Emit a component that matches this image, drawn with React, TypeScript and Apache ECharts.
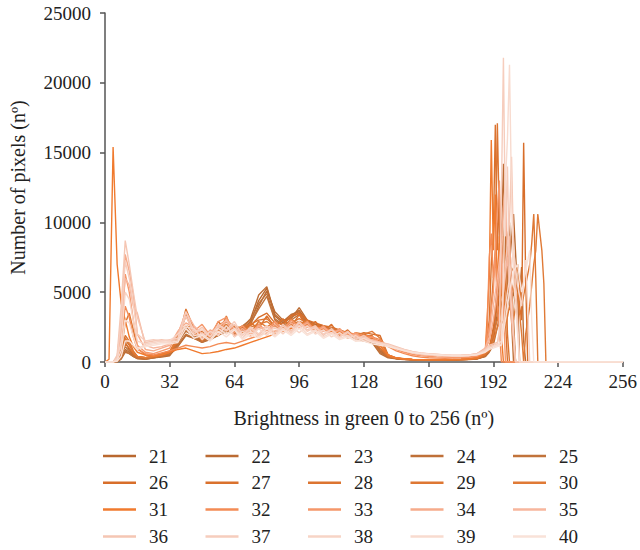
import React, { useEffect, useRef } from "react";
import * as echarts from "echarts";

const XM = [0, 2, 4, 6, 8, 10, 12, 14, 16, 20, 24, 28, 32, 36, 40, 44, 48, 52, 56, 60, 64, 68, 72, 76, 80, 84, 88, 92, 96, 100, 104, 108, 112, 116, 120, 124, 128, 132, 136, 140, 144, 148, 152, 156, 160, 164, 168, 172, 176, 180, 184, 188];

const NAMES = ["21", "22", "23", "24", "25", "26", "27", "28", "29", "30", "31", "32", "33", "34", "35", "36", "37", "38", "39", "40"];

const COLORS = [
  "#b9682f", "#bb6b33", "#bd6d35", "#bf7038", "#c1733b",
  "#d86e2a", "#da712d", "#dc7430", "#de7733", "#e07a36",
  "#f07a2e", "#f38b55", "#f5976a", "#f6ab8b", "#f7b69d",
  "#f5c6b3", "#f6cdbd", "#f7d4c6", "#f8dbcf", "#f9e2d8",
];

const M21 = [0,0,0,100,600,1400,900,500,300, 250,300,400,500, 1100,1900,1700,1500, 1700,2100,2300,2000, 2400,2900,4400,5300,3300, 2800,3300,3700,2900,2600, 2500,2400,2200,2100,1900,1700, 1500,700,350, 250,200,170,150,150,140,150,160,180,200,250,450];
const M22 = [0,0,0,50,300,900,700,400,250, 200,300,350,450, 1300,2300,1800,1400, 1600,1900,2500,2100, 2200,2700,4000,5100,3600, 3000,3100,3900,3000,2700, 2600,2300,2300,2000,1800,1600, 1700,800,400, 250,200,160,150,140,140,150,150,170,190,240,400];
const M23 = [0,0,0,0,200,700,600,400,300, 250,350,450,600, 1400,2500,2000,1600, 1800,2200,2600,2300, 2500,3100,4800,5400,3400, 2900,3400,3600,2800,2500, 2400,2300,2100,2000,1800,1500, 1400,600,300, 220,180,150,140,130,130,140,150,160,180,220,380];
const M24 = [0,0,0,100,500,1100,800,500,300, 300,350,500,650, 1500,2200,1900,1500, 1900,2000,2400,2200, 2600,3000,4200,4900,3100, 2700,3200,3500,2900,2600, 2500,2300,2200,1900,1700,1600, 1600,900,400, 260,200,170,160,150,150,150,160,170,190,230,420];
const M25 = [0,0,0,0,300,800,600,400,250, 200,300,400,550, 1200,2000,1700,1400, 1700,1900,2200,2000, 2300,2800,3800,4700,3000, 2600,3000,3400,2700,2500, 2400,2200,2000,1900,1700,1500, 1500,700,350, 240,190,160,150,140,140,150,160,170,200,260,480];
const M26 = [0,0,0,200,800,1600,1200,700,400, 300,400,500,700, 1600,2600,2200,1700, 1900,2300,2900,2400, 2500,2600,3200,3500,2800, 2700,3300,3500,3000,2800, 2600,2500,2300,2100,1900,2100, 2000,1900,500, 300,220,180,160,150,150,150,160,170,190,250,500];
const M27 = [0,0,0,100,500,1300,1000,600,350, 300,350,500,700, 1400,3500,1900,2200, 1700,2900,2200,2600, 2100,2800,2400,3300,2500, 3100,2500,3400,2500,2900, 2200,2700,1900,2300,1700,2000, 1800,1200,400, 280,210,170,160,150,150,160,170,190,220,300,700];
const M28 = [0,0,0,150,700,1900,1500,800,400, 300,400,550,750, 1800,3300,2500,1800, 2100,2600,3000,2500, 2500,2700,3000,3100,2600, 2500,2800,3100,2800,2600, 2400,2300,2100,2000,1900,1800, 1900,1000,400, 270,200,170,160,150,150,160,170,190,230,320,800];
const M29 = [0,0,0,100,900,2800,3500,2300,1000, 500,450,600,800, 1500,3800,2400,1600, 1800,2300,2700,2200, 2300,2500,2700,2900,2500, 2400,2700,2900,2700,2500, 2300,2200,2100,1900,1800,1700, 1700,1500,500, 280,220,180,160,150,150,160,170,180,210,260,550];
const M30 = [0,0,0,100,600,1700,1300,700,400, 300,400,550,700, 1900,2600,2400,1500, 2200,1900,3300,1800, 2600,2100,2900,2500,2900, 2200,3100,2600,3000,2200, 2600,2000,2200,1700,2100,2000, 2200,1700,450, 280,210,170,160,150,150,160,170,190,220,280,600];
const M31 = [0,200,15400,7000,4200,3000,1800,1100,700, 500,400,500,700, 900,1000,800,600, 650,750,900,1000, 1200,1400,1600,1800,2000, 2200,2400,2600,2500,2400, 2300,2200,2100,2000,1900,1800, 1800,1200,500, 300,230,190,170,160,160,170,180,200,230,300,700];
const M32 = [0,0,0,300,1500,4000,3200,1800,900, 600,500,650,800, 1000,1200,1100,1000, 1100,1300,1400,1300, 1500,1700,1900,2100,2200, 2300,2500,2700,2600,2500, 2400,2300,2200,2100,2000,1900, 1800,1600,1100, 800,600,450,350,300,280,270,280,300,330,400,700];
const M33 = [0,0,0,200,2000,6300,5000,3000,1200, 700,600,800,1000, 2100,3300,2200,2700, 1900,2900,3200,2100, 2600,2000,2700,2200,2900, 2300,3000,2500,2900,2200, 2600,2000,2400,1800,2100,1600, 1800,1400,1200, 900,700,550,450,400,370,350,340,350,380,450,800];
const M34 = [0,0,0,300,3000,7700,6500,4800,2000, 900,800,1000,1200, 2200,2800,2500,1700, 2300,2000,3000,1900, 2400,1900,2600,2100,2700, 2200,2800,2400,2800,2100, 2500,2000,2300,1900,2000,1600, 1600,1400,1200, 1000,800,650,550,500,460,430,420,430,460,550,900];
const M35 = [0,0,0,200,2500,6000,5500,4000,3500, 1200,1000,1100,1300, 2000,3600,2600,2000, 2100,2500,3000,2400, 2200,2300,2400,2500,2400, 2400,2500,2600,2500,2400, 2200,2100,2000,1900,1800,1700, 1600,1400,1200, 1000,850,700,600,550,500,470,460,470,500,600,1000];
const M36 = [0,0,0,500,4000,8700,7000,5000,3200, 1400,1500,1600,1500, 1600,3300,2000,2500, 1800,2600,2200,2700, 1700,2400,1900,2600,2100, 2700,2200,2900,2300,2600, 1900,2400,1800,2200,1600,1900, 1500,1400,1300, 1100,900,750,650,600,550,500,480,480,500,600,900];
const M37 = [0,0,0,300,3000,7200,6000,4200,2000, 1500,1600,1500,1600, 1700,3600,2200,2300, 1800,2700,2300,2900, 1900,2500,2000,2600,1900, 2600,2100,2800,2200,2500, 2000,2300,1800,2100,1700,1800, 1500,1350,1250, 1050,880,720,640,580,540,500,470,470,490,580,850];
const M38 = [0,0,0,200,1500,5000,4500,3000,1500, 1300,1400,1500,1500, 2000,2500,2400,1600, 2200,1900,2600,1800, 2200,1800,2400,1900,2500, 2000,2600,2100,2600,2000, 2300,1800,2100,1700,1900,1500, 1500,1300,1200, 1000,850,700,620,560,520,490,460,460,480,560,800];
const M39 = [0,0,0,100,800,3000,2800,1800,1000, 1200,1300,1400,1400, 1500,2700,1900,2000, 1600,2400,2000,2400, 1700,2200,1800,2400,1900, 2400,2000,2600,2000,2300, 1800,2100,1700,1900,1500,1700, 1400,1300,1200, 1000,830,700,610,560,520,480,460,450,470,540,750];
const M40 = [0,0,0,50,400,1500,1500,1200,900, 1100,1200,1300,1300, 1400,2400,1700,1900, 1500,2200,1800,2300, 1600,2000,1700,2200,1800, 2300,1900,2400,1900,2200, 1700,2000,1600,1800,1500,1500, 1300,1200,1100, 950,800,680,600,550,510,470,450,440,460,520,700];

const P21 = [[190,800],[192,1500],[194,3500],[196,6000],[198,9000],[200,7000],[202,10600],[204,5000],[205,0]];
const P22 = [[190,900],[192,2000],[194,5000],[196,9000],[197,14200],[198,7000],[200,10000],[201,4000],[203,0]];
const P23 = [[190,700],[192,1200],[194,2500],[196,4000],[198,5500],[200,4000],[202,5000],[204,3000],[206,6800],[207,1500],[208,0]];
const P24 = [[190,800],[192,1800],[194,4500],[196,7000],[198,9500],[199,5000],[200,8000],[202,3000],[203,0]];
const P25 = [[190,1000],[192,2200],[194,5500],[195,8500],[196,6000],[198,11000],[199,6000],[201,3000],[202,0]];
const P26 = [[190,1000],[192,2500],[194,4000],[196,6000],[198,8000],[200,7000],[202,6500],[204,5000],[206,3000],[207,15700],[208,6000],[209,0]];
const P27 = [[190,3000],[191,7000],[192,9000],[193,17000],[194,8000],[195,12000],[196,5000],[197,9000],[198,3000],[199,0]];
const P28 = [[190,2000],[192,6000],[193,8000],[194,17100],[195,10000],[196,6000],[197,3000],[198,7000],[199,2000],[200,0]];
const P29 = [[190,1000],[192,2000],[194,3000],[196,5000],[198,4000],[200,6000],[202,5000],[204,7000],[206,4000],[208,5500],[210,7000],[211,8500],[212,10600],[213,6000],[214,0]];
const P30 = [[190,800],[192,1500],[194,2500],[196,3000],[198,2500],[200,4000],[202,3000],[204,5000],[206,2000],[207,0],[208,2000],[210,4000],[212,7000],[213,8000],[214,10600],[216,8000],[217,5600],[218,0]];
const P31 = [[190,6000],[191,15900],[192,8000],[193,12000],[194,5000],[195,9000],[196,2000],[197,0]];
const P32 = [[189,2500],[190,7500],[191,9200],[192,6000],[193,7500],[194,4000],[195,2500],[196,0]];
const P33 = [[190,2500],[192,5000],[193,8000],[194,11000],[195,13000],[196,6000],[197,4000],[198,0]];
const P34 = [[190,1500],[192,3000],[194,5000],[196,8000],[197,11000],[198,13000],[199,7000],[200,9000],[202,2000],[203,0]];
const P35 = [[190,1800],[192,4000],[194,6000],[196,8500],[197,5000],[199,7500],[201,3000],[203,0]];
const P36 = [[190,1200],[192,1300],[194,1400],[196,3000],[198,7000],[200,10000],[201,14700],[202,8000],[204,3000],[205,0]];
const P37 = [[190,1100],[192,1200],[194,1300],[195,2000],[196,12000],[197,21800],[198,9000],[199,14000],[200,6000],[202,2000],[203,0]];
const P38 = [[190,1000],[192,1100],[194,1200],[196,1300],[198,4000],[200,6000],[202,8000],[204,5500],[206,4000],[208,7300],[209,4000],[210,0]];
const P39 = [[190,1000],[192,1100],[194,1200],[196,1500],[197,6000],[198,13000],[199,16000],[200,21300],[201,12000],[202,6000],[204,2000],[205,0]];
const P40 = [[190,900],[192,1000],[194,1100],[196,1200],[198,3000],[200,5000],[202,6500],[204,7000],[206,5000],[208,6500],[210,8000],[211,3000],[212,0]];

const MIDS = [M21, M22, M23, M24, M25, M26, M27, M28, M29, M30, M31, M32, M33, M34, M35, M36, M37, M38, M39, M40];
const SPIKES = [P21, P22, P23, P24, P25, P26, P27, P28, P29, P30, P31, P32, P33, P34, P35, P36, P37, P38, P39, P40];
const X_END = 256;

const X_TICKS = [0, 32, 64, 96, 128, 160, 192, 224, 256];
const Y_MAX = 25000;
const Y_STEP = 5000;

const FONT = "Liberation Serif";

export default function App() {
  const ref = useRef<HTMLDivElement>(null);
  useEffect(() => {
    if (!ref.current) return;
    const chart = echarts.init(ref.current, null, { renderer: "svg" });
    const series = NAMES.map((name, i) => ({
      type: "line",
      name,
      data: XM.map((x, j) => [x, MIDS[i][j]]).concat(SPIKES[i]).concat([[X_END, 0]]),
      symbol: "none",
      showSymbol: false,
      lineStyle: { width: 1.4, color: COLORS[i] },
      itemStyle: { color: COLORS[i] },
      z: 2,
    }));
    const colLefts = [103, 205.5, 308, 410.5, 513];
    const legends = colLefts.map((left, c) => ({
      orient: "vertical",
      left,
      top: 446,
      itemWidth: 33,
      itemHeight: 2.5,
      itemGap: 6.8,
      icon: "rect",
      padding: 0,
      data: [0, 1, 2, 3].map((r) => NAMES[r * 5 + c]),
      textStyle: {
        fontFamily: FONT,
        fontSize: 19,
        color: "#222",
        lineHeight: 20,
        padding: [0, 0, 0, 8],
      },
    }));
    chart.setOption({
      animation: false,
      backgroundColor: "#fff",
      grid: { left: 104, right: 14, top: 13, bottom: 188, containLabel: false },
      legend: legends,
      xAxis: {
        type: "value",
        min: X_TICKS[0],
        max: X_TICKS[X_TICKS.length - 1],
        interval: 32,
        name: "Brightness in green 0 to 256 (nº)",
        nameLocation: "middle",
        nameGap: 46,
        nameTextStyle: { fontFamily: FONT, fontSize: 20, color: "#222" },
        axisLine: { show: true, onZero: false, lineStyle: { color: "#555", width: 1.5 } },
        axisTick: { show: true, length: 5, lineStyle: { color: "#555", width: 1.5 } },
        axisLabel: { fontFamily: FONT, fontSize: 19, color: "#222", margin: 10 },
        splitLine: { show: false },
      },
      yAxis: {
        type: "value",
        min: 0,
        max: Y_MAX,
        interval: Y_STEP,
        name: "Number of pixels (nº)",
        nameLocation: "middle",
        nameGap: 77,
        nameTextStyle: { fontFamily: FONT, fontSize: 20, color: "#222" },
        axisLine: { show: true, lineStyle: { color: "#555", width: 1.5 } },
        axisTick: { show: true, length: 5, lineStyle: { color: "#555", width: 1.5 } },
        axisLabel: {
          fontFamily: FONT,
          fontSize: 19,
          color: "#222",
          margin: 14,
          formatter: (v: number) => String(v),
        },
        splitLine: { show: false },
      },
      series,
    });
    return () => chart.dispose();
  }, []);
  return (
    <div
      ref={ref}
      style={{ position: "fixed", left: 0, top: 0, width: 640, height: 550, overflow: "hidden" }}
    />
  );
}
